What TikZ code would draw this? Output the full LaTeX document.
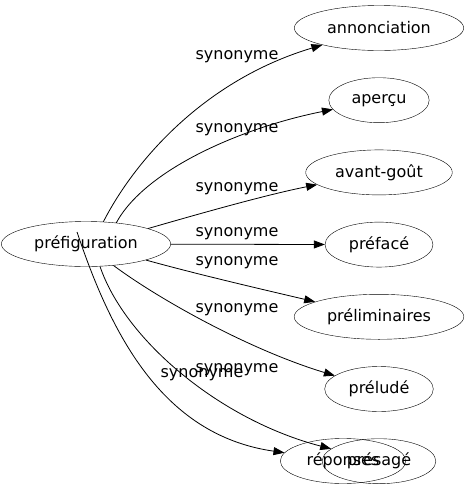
\documentclass[tikz,border=0pt]{standalone}
\usepackage{fontspec}
\setmainfont{DejaVu Sans}
\usetikzlibrary{shapes}
\usetikzlibrary{arrows.meta}

\begin{document}
\begin{tikzpicture}[x=1pt, y=-1pt, >={Triangle[length=11pt,width=8pt]},
    mot/.style={draw, ellipse, inner xsep=8pt, minimum width=100pt,
      minimum height=45pt, font=\fontsize{16}{19}\selectfont},
    lien/.style={->, line width=0.8pt},
    syn/.style={font=\fontsize{16}{19}\selectfont, inner sep=0pt}]
    \useasboundingbox (0,0) rectangle (468,491);

    \node[mot] (pref) at (86,244) {préfiguration};
    \foreach \n/\t [count=\i from 0] in {ann/annonciation, aper/aperçu,
      avant/avant-goût, prefa/préfacé, prelim/préliminaires,
      prelu/préludé, presa/présagé}
      \node[mot] (\n) at (379,{28+72.2*\i}) {\t};
    \node[mot] (rep) at (343,461) {réponses};

    \draw[lien] (pref.52) .. controls (135,160) and (205,80) .. (ann);
    \draw[lien] (pref.35) .. controls (145,170) and (240,128) .. (aper);
    \draw[lien] (pref.14) .. controls (195,215) and (265,195) .. (avant);
    \draw[lien] (pref) -- (prefa);
    \draw[lien] (pref.-15) .. controls (200,275) and (265,290) .. (prelim);
    \draw[lien] (pref.-38) .. controls (160,300) and (250,350) .. (prelu);
    \draw[lien] (pref.-58) .. controls (125,340) and (220,420) .. (presa);
    \draw[lien] ([shift={(-9,-12)}]pref.center) .. controls (110,330)
      and (160,435) .. (rep);

    \foreach \y [count=\i] in {57,130,189,234,263,310,370}
      \node[syn] (l\i) at (237,\y) {synonyme};
    \node[syn] (l8) at (202,375) {synonyme};
\end{tikzpicture}
\end{document}
